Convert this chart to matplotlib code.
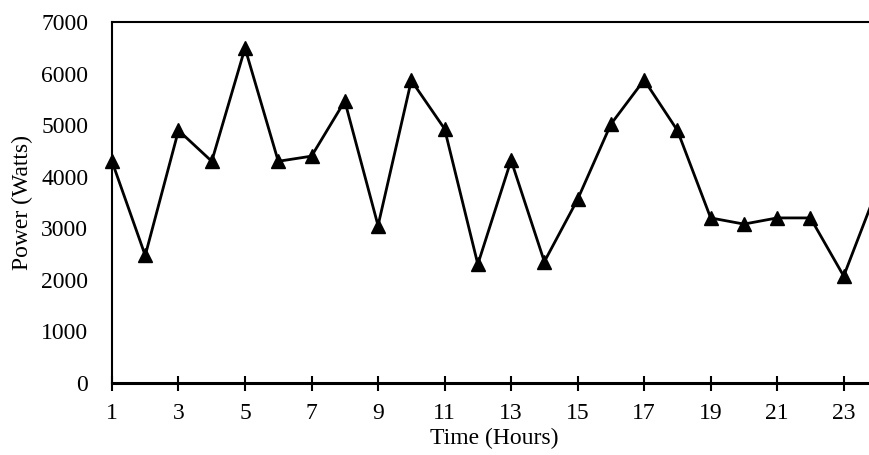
import matplotlib
matplotlib.use('Agg')
import matplotlib.pyplot as plt

hours = list(range(1, 25))
power = [4300, 2470, 4900, 4300, 6500, 4300, 4400, 5470, 3050, 5870,
         4930, 2300, 4320, 2350, 3560, 5020, 5880, 4900, 3200, 3080,
         3200, 3200, 2070, 3750]
xticks = list(range(1, 24, 2))
yticks = list(range(0, 7001, 1000))

plt.rcParams['font.family'] = ['Liberation Serif', 'DejaVu Serif']

fig = plt.figure(figsize=(8.7, 4.55), dpi=100)
ax = fig.add_axes([0.1287, 0.159, 0.8793, 0.792])

ax.plot(hours, power, color='black', linewidth=2, marker='^', markersize=10,
        clip_on=False)

ax.set_xlim(1, 24)
ax.set_ylim(0, 7000)
ax.set_xticks(xticks)
ax.set_yticks(yticks)
ax.tick_params(axis='x', direction='inout', length=10.8, width=1.5,
               labelsize=17, pad=9)
ax.tick_params(axis='y', length=0, labelsize=17, pad=17)

ax.spines['right'].set_visible(False)
ax.spines['bottom'].set_linewidth(2.2)
ax.spines['left'].set_linewidth(1.5)
ax.spines['top'].set_linewidth(1.5)

ax.set_xlabel('Time (Hours)', fontsize=17, labelpad=3)
ax.set_ylabel('Power (Watts)', fontsize=17, labelpad=6)

fig.savefig('out.png', dpi=100)
